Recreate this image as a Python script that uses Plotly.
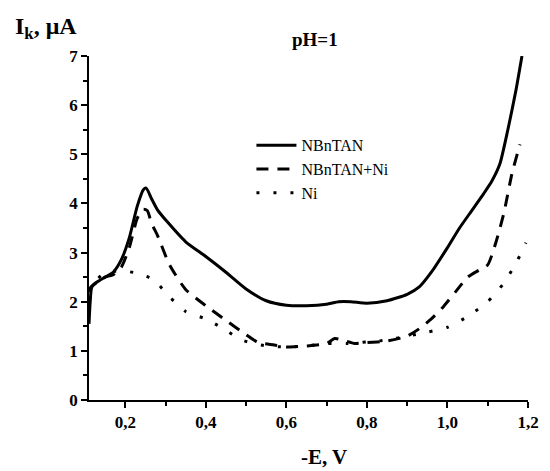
import plotly.graph_objects as go

# NBnTAN (solid)
x_nbntan = [0.11, 0.113, 0.117, 0.13, 0.15, 0.17, 0.19, 0.21, 0.23, 0.245, 0.252, 0.265, 0.28, 0.305,
            0.35, 0.4, 0.45, 0.5, 0.55, 0.6, 0.65, 0.7, 0.73, 0.76, 0.8, 0.85, 0.9, 0.93, 0.96, 1.0,
            1.03, 1.06, 1.09, 1.11, 1.13, 1.15, 1.17, 1.185]
y_nbntan = [1.55, 2.0, 2.3, 2.4, 2.5, 2.6, 2.85, 3.3, 3.95, 4.28, 4.31, 4.1, 3.87, 3.62,
            3.22, 2.92, 2.6, 2.26, 2.02, 1.93, 1.92, 1.95, 2.0, 2.0, 1.97, 2.02, 2.15, 2.3, 2.6, 3.1,
            3.5, 3.85, 4.2, 4.45, 4.8, 5.5, 6.3, 7.0]

# NBnTAN+Ni (dashed)
x_nbntan_ni = [0.11, 0.115, 0.13, 0.15, 0.17, 0.19, 0.21, 0.23, 0.245, 0.255, 0.265, 0.28, 0.31,
               0.35, 0.4, 0.45, 0.5, 0.53, 0.57, 0.6, 0.65, 0.7, 0.72, 0.74, 0.77, 0.8, 0.85, 0.9,
               0.93, 0.96, 0.99, 1.02, 1.05, 1.08, 1.1, 1.12, 1.14, 1.16, 1.18]
y_nbntan_ni = [2.2, 2.3, 2.4, 2.5, 2.55, 2.7, 3.1, 3.7, 3.88, 3.85, 3.6, 3.35, 2.75,
               2.25, 1.92, 1.62, 1.33, 1.17, 1.12, 1.08, 1.1, 1.15, 1.25, 1.22, 1.15, 1.17, 1.2, 1.3,
               1.45, 1.65, 1.9, 2.2, 2.5, 2.65, 2.75, 3.2, 3.8, 4.6, 5.2]

# Ni (dotted)
x_ni = [0.11, 0.115, 0.13, 0.15, 0.17, 0.2, 0.23, 0.27, 0.31, 0.35, 0.4, 0.44, 0.49, 0.55, 0.6,
        0.65, 0.7, 0.75, 0.8, 0.85, 0.9, 0.95, 1.0, 1.05, 1.1, 1.14, 1.17, 1.195]
y_ni = [2.2, 2.3, 2.45, 2.6, 2.62, 2.62, 2.58, 2.45, 2.1, 1.8, 1.65, 1.47, 1.22, 1.1, 1.08,
        1.1, 1.15, 1.15, 1.18, 1.22, 1.3, 1.38, 1.48, 1.7, 2.0, 2.38, 2.78, 3.2]

x_ticks = [0.2, 0.4, 0.6, 0.8, 1.0, 1.2]
x_ticklabels = ["0,2", "0,4", "0,6", "0,8", "1,0", "1,2"]
y_ticks = [0, 1, 2, 3, 4, 5, 6, 7]

FONT = "Liberation Serif, Times New Roman, serif"

fig = go.Figure()
fig.add_trace(go.Scatter(x=x_nbntan, y=y_nbntan, mode="lines", name="NBnTAN",
                         line=dict(color="black", width=3, shape="spline", smoothing=0.6)))
fig.add_trace(go.Scatter(x=x_nbntan_ni, y=y_nbntan_ni, mode="lines", name="NBnTAN+Ni",
                         line=dict(color="black", width=3, dash="12px,9px", shape="spline", smoothing=0.6)))
fig.add_trace(go.Scatter(x=x_ni, y=y_ni, mode="lines", name="Ni",
                         line=dict(color="black", width=3, dash="3px,14px", shape="spline", smoothing=0.6)))

fig.update_layout(
    width=550, height=471,
    margin=dict(l=89, r=11, t=56, b=71),
    paper_bgcolor="white", plot_bgcolor="white",
    font=dict(family=FONT, color="black", size=15),
    showlegend=True,
    legend=dict(x=0.37, y=0.79, xanchor="left", yanchor="top", itemwidth=40,
                font=dict(family=FONT, size=16, color="black"),
                bgcolor="rgba(0,0,0,0)", tracegroupgap=0),
    xaxis=dict(range=[0.11, 1.2], tickvals=x_ticks, ticktext=x_ticklabels,
               ticks="outside", ticklen=6, tickwidth=1.5, tickcolor="black",
               showline=True, linecolor="black", linewidth=1.5, showgrid=False, zeroline=False,
               tickfont=dict(family=FONT, size=17, color="black", weight="bold"),
               minor=dict(dtick=0.1, tick0=0.1, ticks="outside", ticklen=4, tickcolor="black", tickwidth=1.5)),
    yaxis=dict(range=[0, 7], tickvals=y_ticks,
               ticks="outside", ticklen=6, tickwidth=1.5, tickcolor="black",
               showline=True, linecolor="black", linewidth=1.5, showgrid=False, zeroline=False,
               tickfont=dict(family=FONT, size=17, color="black", weight="bold"),
               minor=dict(dtick=0.5, tick0=0, ticks="outside", ticklen=4, tickcolor="black", tickwidth=1.5)),
)

fig.add_annotation(xref="paper", yref="paper", x=-0.172, y=1.08, xanchor="left", yanchor="middle",
                   text="I<sub>k</sub>, μA", showarrow=False,
                   font=dict(family=FONT, size=24, color="black", weight="bold"))
fig.add_annotation(xref="paper", yref="paper", x=0.515, y=1.047, xanchor="center", yanchor="middle",
                   text="pH=1", showarrow=False,
                   font=dict(family=FONT, size=19, color="black", weight="bold"))
fig.add_annotation(xref="paper", yref="paper", x=0.535, y=-0.165, xanchor="center", yanchor="middle",
                   text="-E, V", showarrow=False,
                   font=dict(family=FONT, size=21, color="black", weight="bold"))

fig.write_html("out.html")
